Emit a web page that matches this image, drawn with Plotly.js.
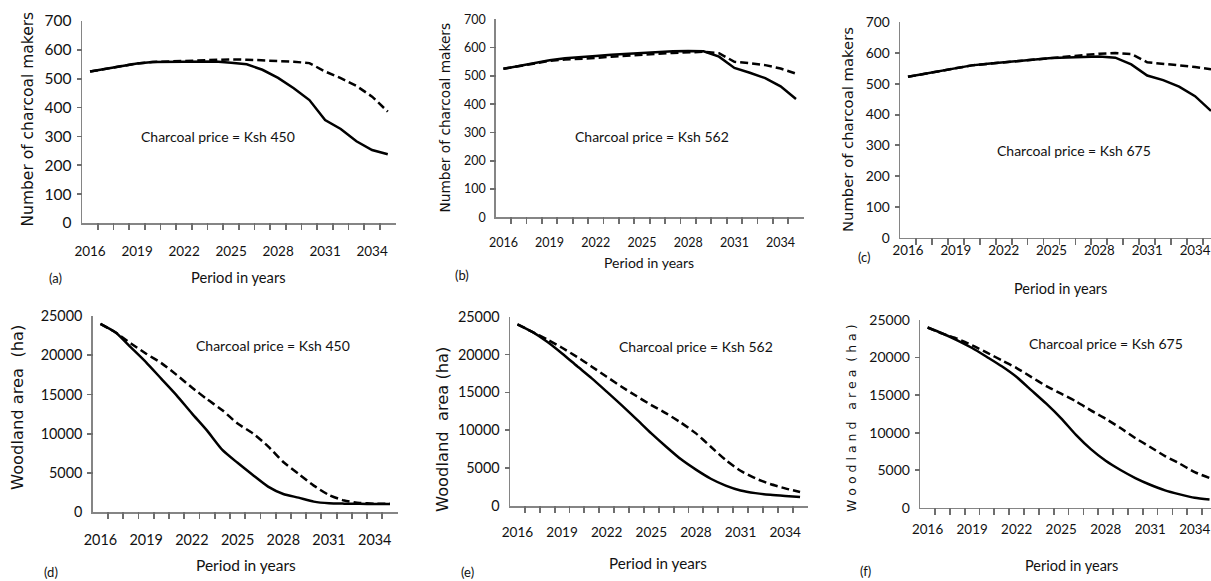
<!DOCTYPE html>
<html><head><meta charset="utf-8">
<script src="https://cdn.plot.ly/plotly-3.0.1.min.js"></script>
<style>html,body{margin:0;padding:0;background:#fff;}#chart{width:1211px;height:581px;}</style>
</head><body><div id="chart"></div>
<script>
// ---- data ----
const years = [2016,2017,2018,2019,2020,2021,2022,2023,2024,2025,2026,2027,2028,2029,2030,2031,2032,2033,2034,2035];
const xTickYears = [2016,2019,2022,2025,2028,2031,2034];
const makersTicks = [0,100,200,300,400,500,600,700];
const woodTicks = [0,5000,10000,15000,20000,25000];

const makers450Solid  = [525,535,545,553,558,558,560,560,560,555,550,531,503,467,426,357,326,283,253,238];
const makers450Dashed = [525,535,545,553,558,560,562,563,565,567,566,564,562,559,554,525,502,475,438,386];
const makers562Solid  = [525,535,545,555,562,565,570,575,578,582,585,587,588,587,568,528,511,492,463,418];
const makers562Dashed = [525,535,545,553,558,560,563,568,572,576,578,581,583,585,580,550,545,538,526,508];
const makers675Solid  = [523,532,542,552,560,565,570,575,580,584,586,588,589,585,563,527,512,491,460,412];
const makers675Dashed = [523,532,542,552,560,565,570,575,580,584,590,595,598,600,597,570,565,560,555,547];

const wood450Solid  = [24000,22900,21000,19100,17000,14900,12600,10400,7950,6300,4750,3270,2330,1870,1360,1150,1100,1080,1050,1050];
const wood450Dashed = [24000,22900,21500,20200,19000,17500,15900,14400,13000,11300,10050,8400,6400,4900,3400,2200,1500,1200,1100,1100];
const wood562Solid  = [24000,23000,21700,20150,18480,16850,15100,13330,11480,9590,7830,6160,4800,3600,2700,2050,1700,1480,1330,1200];
const wood562Dashed = [24000,23000,22000,20900,19700,18400,17070,15750,14520,13330,12230,11000,9590,7830,6070,4660,3650,2900,2330,1850];
const wood675Solid  = [24000,23200,22300,21270,20070,18830,17400,15630,13850,11900,9700,7800,6250,5020,3950,3060,2310,1780,1330,1100];
const wood675Dashed = [24000,23180,22500,21620,20650,19620,18600,17400,16200,15180,14160,12960,11850,10610,9280,8080,6880,5860,4750,3950];

const priceLabels = ['Charcoal price = Ksh 450','Charcoal price = Ksh 562','Charcoal price = Ksh 675'];
const panelLetters = ['(a)','(b)','(c)','(d)','(e)','(f)'];
const xTitle = 'Period in years';
const yTitleMakers = 'Number of charcoal makers';
const yTitleWood = ['Woodland area\u00A0\u00A0(ha)','Woodland\u00A0\u00A0area (ha)',
  'W\u00A0o\u00A0o\u00A0d\u00A0l\u00A0a\u00A0n\u00A0d\u00A0\u00A0\u00A0a\u00A0r\u00A0e\u00A0a\u00A0\u00A0(\u00A0h\u00A0a\u00A0)'];

// ---- layout config ----
const W = 1211, H = 581;
const GRAY = '#858585', TICK = '#6e6e6e', TXT = '#111111', CLEAR = 'rgba(0,0,0,0)';
const FONT = 'Lato, "Open Sans", sans-serif';
const TFONT = '"DejaVu Sans", Verdana, sans-serif';

const panels = [
  {solid:makers450Solid, dashed:makers450Dashed, ticks:makersTicks, ymax:700, x0:82.2, x1:395.6, yt:21, yb:223, xmax:2035.5,
   xtl:15.5, xfs:13.5, yfs:15.5, shape:'linear',
   ann:[217.5,136], title:[238.7,277,14.7], letter:[55.5,278,'middle'], ytitle:[27.5,119,15.5,yTitleMakers]},
  {solid:makers562Solid, dashed:makers562Dashed, ticks:makersTicks, ymax:700, x0:495.7, x1:803.7, yt:19.3, yb:217.3, xmax:2035.5,
   xtl:13, xfs:12.5, yfs:12.5, shape:'linear',
   ann:[652,136.7], title:[648.7,262.5,14], letter:[461.7,275,'middle'], ytitle:[445,117.5,13.7,yTitleMakers]},
  {solid:makers675Solid, dashed:makers675Dashed, ticks:makersTicks, ymax:700, x0:900, x1:1211, yt:22.3, yb:237.7, xmax:2035.0,
   xtl:0, xfs:13.3, yfs:13.8, shape:'linear',
   ann:[1074,150.5], title:[1060,288,14.5], letter:[864,256.7,'middle'], ytitle:[847,130,14.8,yTitleMakers]},
  {solid:wood450Solid, dashed:wood450Dashed, ticks:woodTicks, ymax:25000, x0:92.8, x1:397.6, yt:316, yb:512.3, xmax:2035.5,
   xtl:13.5, xfs:14.4, yfs:14.4, shape:'spline',
   ann:[273,345], title:[245.8,565,15.5], letter:[50.8,581,'bottom'], ytitle:[17.5,407.5,16.3,yTitleWood[0]]},
  {solid:wood562Solid, dashed:wood562Dashed, ticks:woodTicks, ymax:25000, x0:510, x1:807.5, yt:316.7, yb:506, xmax:2035.5,
   xtl:13.5, xfs:13.6, yfs:14.4, shape:'spline',
   ann:[695.8,346.7], title:[658,562.5,15.2], letter:[467.5,581,'bottom'], ytitle:[442,430,16.3,yTitleWood[1]]},
  {solid:wood675Solid, dashed:wood675Dashed, ticks:woodTicks, ymax:25000, x0:920.2, x1:1211, yt:320, yb:507.7, xmax:2035.1,
   xtl:8.5, xfs:13.4, yfs:14, shape:'spline',
   ann:[1105.8,343.7], title:[1071,565,14.5], letter:[865.8,571,'middle'], ytitle:[851,418,12.5,yTitleWood[2]]}
];

const boundaries = years.map(y => y - 0.5).concat([years[years.length - 1] + 0.5]);

const traces = [];
const layout = {
  width: W, height: H, margin: {l:0, r:0, t:0, b:0},
  paper_bgcolor: '#fff', plot_bgcolor: 'rgba(0,0,0,0)', showlegend: false,
  font: {family: FONT, color: TXT}, annotations: []
};
const px = (x, y) => ({x: x / W, y: 1 - y / H});
const hidden = (extra) => Object.assign({showline:false, zeroline:false, showgrid:false, showticklabels:false,
  ticks:'', fixedrange:true}, extra);

panels.forEach((p, i) => {
  const s = i === 0 ? '' : String(i + 1);
  const tx = String(7 + i);   // subplot carrying the x tick marks (as grid lines)
  const ty = String(13 + i);  // subplot carrying the y tick marks (as grid lines)
  const lineBase = {color:'#000', width:2.5, shape:p.shape, smoothing:0.6};
  traces.push({x: years, y: p.dashed, type:'scatter', mode:'lines', xaxis:'x'+s, yaxis:'y'+s,
    line: Object.assign({}, lineBase, {dash:'8px,4px'}), hoverinfo:'skip'});
  traces.push({x: years, y: p.solid, type:'scatter', mode:'lines', xaxis:'x'+s, yaxis:'y'+s,
    line: Object.assign({}, lineBase), hoverinfo:'skip'});
  traces.push({x: [], y: [], type:'scatter', mode:'lines', xaxis:'x'+tx, yaxis:'y'+tx, hoverinfo:'skip'});
  traces.push({x: [], y: [], type:'scatter', mode:'lines', xaxis:'x'+ty, yaxis:'y'+ty, hoverinfo:'skip'});

  layout['xaxis'+s] = {
    domain:[p.x0 / W, p.x1 / W], anchor:'y'+s, range:[2015.5, p.xmax],
    tickmode:'array', tickvals:xTickYears, ticktext:xTickYears.map(String),
    ticks: p.xtl > 0 ? 'outside' : '', ticklen:p.xtl, tickcolor:CLEAR, ticklabeloverflow:'allow',
    showline:true, linecolor:GRAY, linewidth:1.5, showgrid:false, zeroline:false,
    tickfont:{family:FONT, size:p.xfs, color:TXT}, fixedrange:true
  };
  layout['yaxis'+s] = {
    domain:[1 - p.yb / H, 1 - p.yt / H], anchor:'x'+s, range:[0, p.ymax],
    tickmode:'array', tickvals:p.ticks, ticktext:p.ticks.map(String),
    ticks:'outside', ticklen:6, tickcolor:CLEAR,
    showline:true, linecolor:GRAY, linewidth:1.5, showgrid:false, zeroline:false,
    tickfont:{family:FONT, size:p.yfs, color:TXT}, fixedrange:true
  };

  // x tick marks at category boundaries: a strip below the x axis with vertical grid lines
  layout['xaxis'+tx] = hidden({domain:[p.x0 / W, p.x1 / W], anchor:'y'+tx, range:[2015.5, p.xmax],
    tickmode:'array', tickvals:boundaries, showgrid:true, gridcolor:TICK, gridwidth:1.8});
  layout['yaxis'+tx] = hidden({domain:[Math.max(0, 1 - (p.yb + 7) / H), 1 - p.yb / H], anchor:'x'+tx, range:[0, 1]});
  // y tick marks: a strip left of the y axis with horizontal grid lines
  layout['xaxis'+ty] = hidden({domain:[(p.x0 - 5.5) / W, p.x0 / W], anchor:'y'+ty, range:[0, 1]});
  layout['yaxis'+ty] = hidden({domain:[1 - p.yb / H, 1 - p.yt / H], anchor:'x'+ty, range:[0, p.ymax],
    tickmode:'array', tickvals:p.ticks, showgrid:true, gridcolor:TICK, gridwidth:1.8});

  const a = px(p.ann[0], p.ann[1]);
  layout.annotations.push({xref:'paper', yref:'paper', x:a.x, y:a.y, xanchor:'center', yanchor:'middle',
    text:priceLabels[i % 3], showarrow:false, font:{family:FONT, size:14, color:TXT}});
  const t = px(p.title[0], p.title[1]);
  layout.annotations.push({xref:'paper', yref:'paper', x:t.x, y:t.y, xanchor:'center', yanchor:'middle',
    text:xTitle, showarrow:false, font:{family:FONT, size:p.title[2], color:TXT}});
  const l = px(p.letter[0], p.letter[1]);
  layout.annotations.push({xref:'paper', yref:'paper', x:l.x, y:l.y, xanchor:'center', yanchor:p.letter[2],
    text:panelLetters[i], showarrow:false, borderpad:0, font:{family:FONT, size:13, color:TXT}});
  const yt = px(p.ytitle[0], p.ytitle[1]);
  layout.annotations.push({xref:'paper', yref:'paper', x:yt.x, y:yt.y, xanchor:'center', yanchor:'middle',
    text:p.ytitle[3], textangle:-90, showarrow:false, font:{family:TFONT, size:p.ytitle[2], color:TXT}});
});

Plotly.newPlot('chart', traces, layout, {displayModeBar:false, staticPlot:true});
</script>
</body></html>
